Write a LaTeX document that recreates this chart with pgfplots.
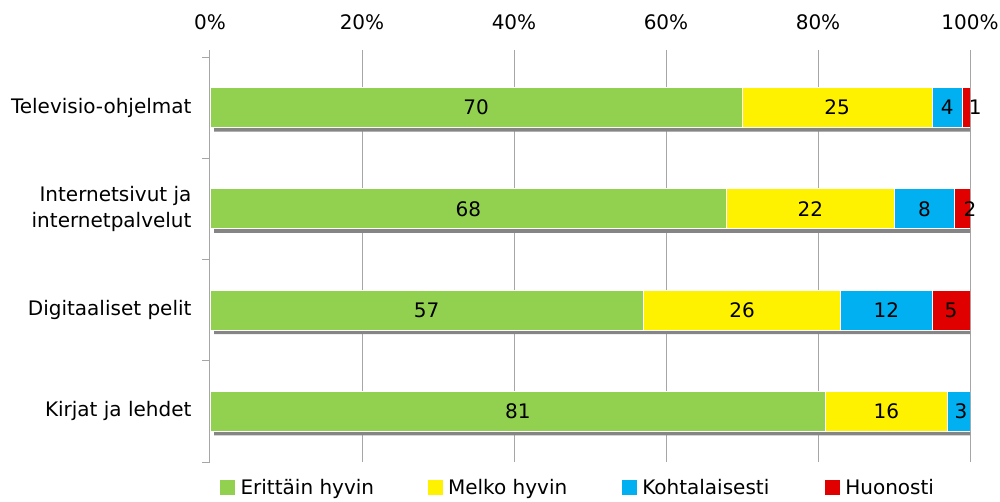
\documentclass[border=0pt]{standalone}
\usepackage{pgfplots}
\pgfplotsset{compat=1.18}
\usepackage{pgfplotstable}
\usepackage{fontspec}
\setmainfont{DejaVu Sans}
\definecolor{cg}{HTML}{92D050}
\definecolor{cy}{HTML}{FFF200}
\definecolor{cb}{HTML}{00B0F0}
\definecolor{cr}{HTML}{E00000}
\definecolor{shadowgray}{HTML}{858585}
\definecolor{gridgray}{HTML}{A6A6A6}
\newcommand\lf{\fontsize{20}{26}\selectfont}

\pgfplotstableread{
y g ye b r
0 70 25 4 1
1 68 22 8 2
2 57 26 12 5
3 81 16 3 0
}\datatable

\pgfplotstableread{
y tot
0 100
1 100
2 100
3 100
}\shadowtable

\pgfplotstableread{
x y lab
35 0 70
82.5 0 25
97 0 4
100.7 0 1
34 1 68
79 1 22
94 1 8
100 1 2
28.5 2 57
70 2 26
89 2 12
97.5 2 5
40.5 3 81
89 3 16
98.8 3 3
}\labtable

\pgfplotsset{base/.style={at={(0,0)}, anchor=south west, scale only axis,
  width=760pt, height=405pt, xmin=0, xmax=100, ymin=-0.5, ymax=3.5, y dir=reverse}}

\begin{document}
\begin{tikzpicture}
% frame, grid, ticks and labels
\begin{axis}[base,
  axis x line*=top, axis y line*=left,
  x axis line style={draw=none},
  y axis line style={draw=gridgray, line width=1pt, -},
  xtick={0,20,40,60,80,100},
  xticklabels={0\%,20\%,40\%,60\%,80\%,100\%},
  xmajorgrids, grid style={gridgray, line width=1pt},
  x tick style={gridgray, line width=1pt},
  tick align=outside, major tick length=7pt,
  ytick={0,1,2,3},
  y tick style={draw=none},
  yticklabels={Televisio-ohjelmat,{Internetsivut ja\\internetpalvelut},Digitaaliset pelit,Kirjat ja lehdet},
  yticklabel style={align=right, font=\lf, xshift=-8pt},
  xticklabel style={font=\lf, yshift=17pt},
  extra y ticks={-0.5,0.5,1.5,2.5,3.5},
  extra y tick labels={},
  extra y tick style={y tick style={draw=gridgray, line width=1pt}, major tick length=8pt, ymajorgrids=false},
]
\addplot[draw=none] coordinates {(0,0)};
\end{axis}
% shadows
\begin{axis}[base, at={(4pt,-4pt)}, xmax=100.53, hide axis]
\addplot[xbar, bar width=40pt, fill=shadowgray, draw=none] table[x=tot, y=y] {\shadowtable};
\end{axis}
% stacked bars
\begin{axis}[base, hide axis, xbar stacked, bar width=40pt,
  legend columns=4,
  legend style={at={(0.013,-0.064)}, anchor=west, draw=none, fill=none,
    font=\lf, inner sep=0pt, nodes={inner sep=2.5pt}},
  legend image code/.code={\path[#1, draw=none] (0pt,-7.5pt) rectangle (15pt,7.5pt);},
]
\addplot[fill=cg, draw=white, line width=1pt] table[x=g, y=y] {\datatable};
\addlegendentry{\hspace*{3pt}Erittäin hyvin\hspace*{51pt}}
\addplot[fill=cy, draw=white, line width=1pt] table[x=ye, y=y] {\datatable};
\addlegendentry{\hspace*{3pt}Melko hyvin\hspace*{52pt}}
\addplot[fill=cb, draw=white, line width=1pt] table[x=b, y=y] {\datatable};
\addlegendentry{\hspace*{3pt}Kohtalaisesti\hspace*{53pt}}
\addplot[fill=cr, draw=white, line width=1pt] table[x=r, y=y] {\datatable};
\addlegendentry{\hspace*{3pt}Huonosti}
\end{axis}
% value labels
\begin{axis}[base, hide axis, clip=false]
\addplot[draw=none, mark=none, nodes near coords, point meta=explicit symbolic,
  every node near coord/.style={anchor=center, font=\lf, inner sep=0pt}]
  table[x=x, y=y, meta=lab] {\labtable};
\end{axis}
\pgfresetboundingbox
\useasboundingbox (-210pt,-39pt) rectangle (790pt,462pt);
\end{tikzpicture}
\end{document}
